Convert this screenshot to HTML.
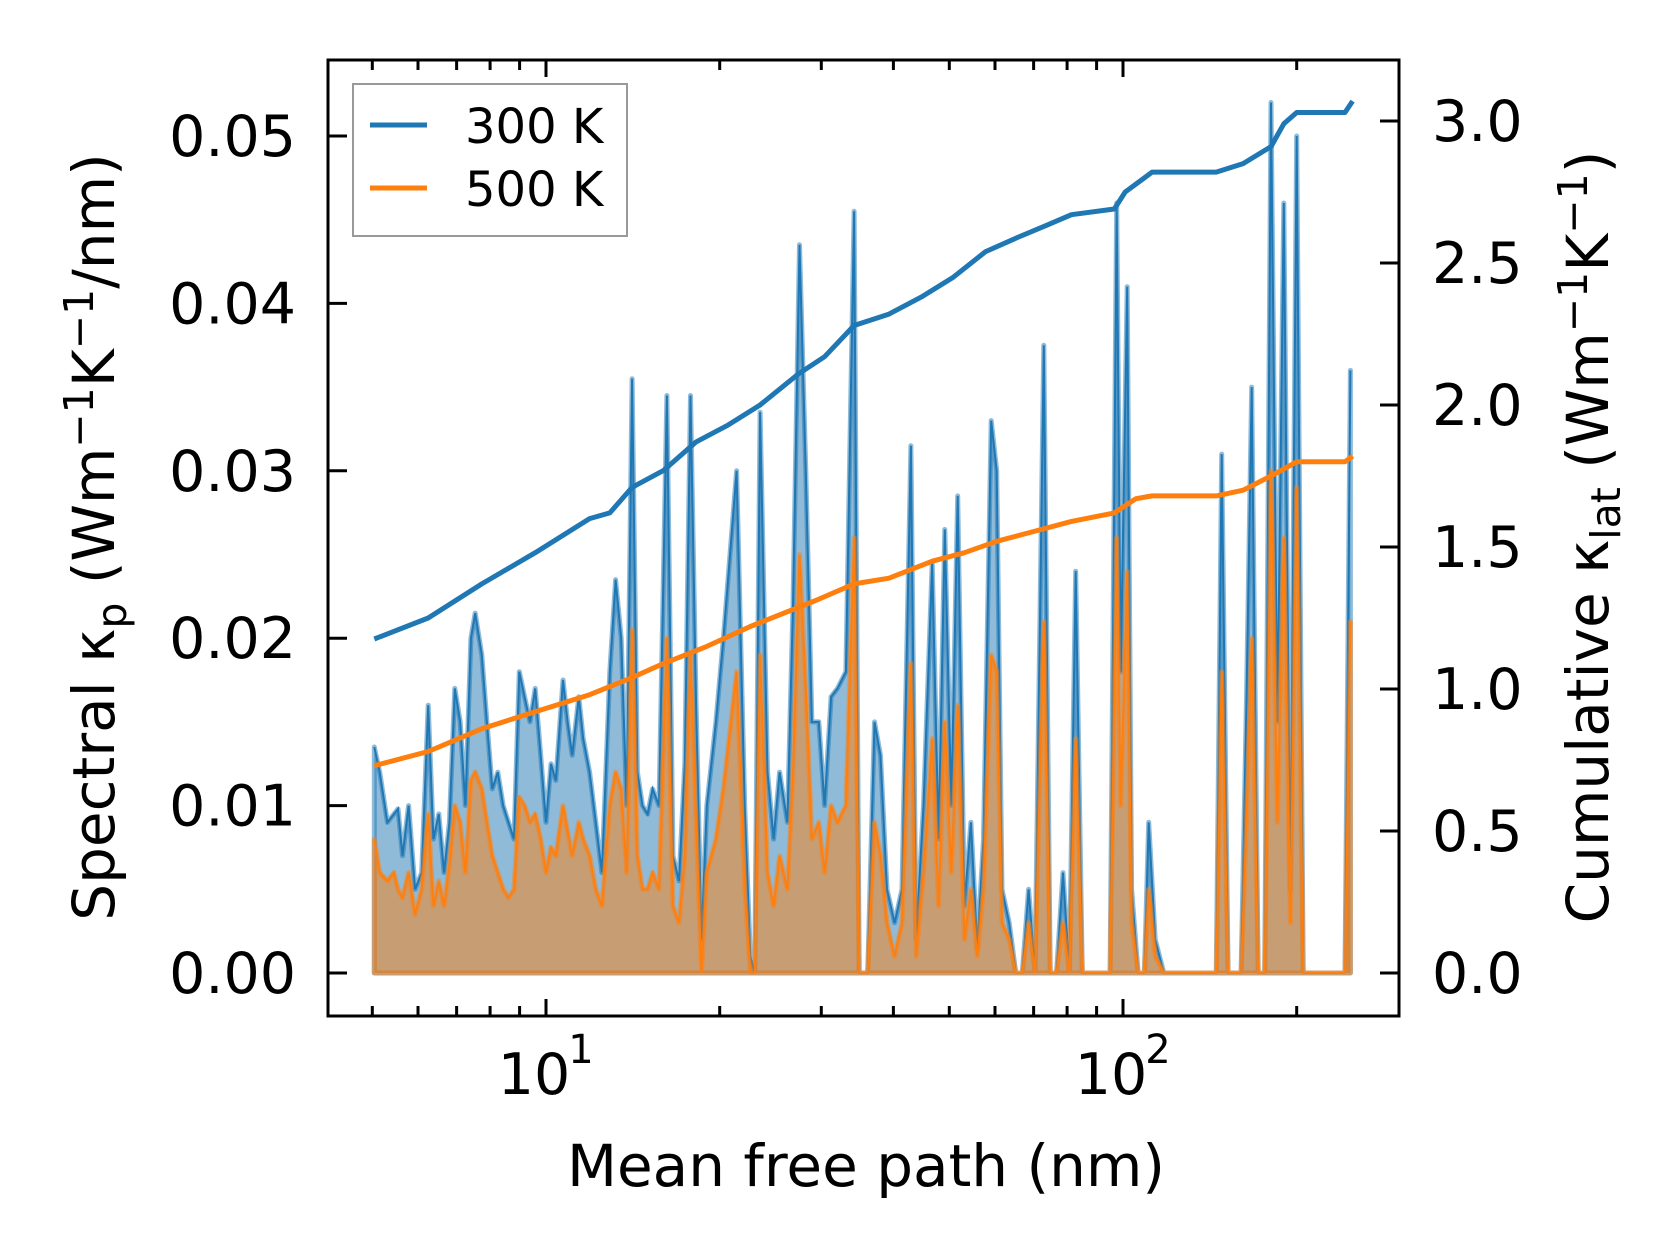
<!DOCTYPE html>
<html><head><meta charset="utf-8"><style>
body{margin:0;background:#fff;}
svg{display:block;font-family:"DejaVu Sans","Liberation Sans",sans-serif;}
</style></head><body>
<svg id="chart" width="1679" height="1254" viewBox="0 0 1679 1254" xmlns="http://www.w3.org/2000/svg">
<rect width="1679" height="1254" fill="#fff"/>
<g id="plot"></g>
<g id="axes"></g>
<text x="866" y="1186" font-size="58" text-anchor="middle">Mean free path (nm)</text>
<text transform="translate(114,537) rotate(-90)" font-size="58" text-anchor="middle">Spectral κ<tspan font-size="41" dy="12">p</tspan><tspan dy="-12"> (Wm</tspan><tspan font-size="41" dy="-21">−1</tspan><tspan dy="21">K</tspan><tspan font-size="41" dy="-21">−1</tspan><tspan dy="21">/nm)</tspan></text>
<text transform="translate(1608,537) rotate(-90)" font-size="58" text-anchor="middle">Cumulative κ<tspan font-size="41" dy="12">lat</tspan><tspan dy="-12"> (Wm</tspan><tspan font-size="41" dy="-21">−1</tspan><tspan dy="21">K</tspan><tspan font-size="41" dy="-21">−1</tspan><tspan dy="21">)</tspan></text>
<g>
<rect x="353" y="84" width="274" height="152" fill="#fff" stroke="#999" stroke-width="2"/>
<line x1="370" y1="125" x2="427" y2="125" stroke="#1f77b4" stroke-width="5"/>
<text x="465" y="143" font-size="48">300 K</text>
<line x1="370" y1="188" x2="427" y2="188" stroke="#ff7f0e" stroke-width="5"/>
<text x="465" y="206" font-size="48">500 K</text>
</g>
</svg>
<script>
const mfp=[5.04,5.15,5.31,5.45,5.54,5.64,5.78,5.93,6.09,6.25,6.38,6.52,6.66,6.80,6.95,7.10,7.25,7.41,7.54,7.74,7.90,8.07,8.25,8.43,8.61,8.80,8.99,9.18,9.38,9.58,9.79,10.0,10.2,10.4,10.7,10.9,11.1,11.4,11.6,11.9,12.2,12.5,12.9,13.2,13.5,13.8,14.1,14.4,14.7,15.0,15.3,15.7,16.2,16.6,17.0,17.4,17.8,18.2,18.6,19.0,19.7,20.3,21.4,22.1,22.6,23.0,23.5,24.2,24.8,25.4,26.2,26.8,27.5,28.2,28.9,29.7,30.4,31.2,32.0,33.1,34.2,34.9,36.1,37.1,38.0,39.0,40.2,41.4,42.9,43.8,45.1,46.7,47.9,49.1,50.4,51.7,53.1,54.5,55.9,57.3,59.1,60.4,61.7,63.5,65.2,66.9,68.6,70.4,72.9,74.8,76.7,78.7,80.7,82.8,85.0,87.9,90.3,95.0,97.5,99.1,101.7,103.5,106.2,108.9,110.8,113.7,117.7,145.1,148.3,152.1,160.2,163.6,167.1,171.5,176.0,180.5,185.2,190.0,195.0,200.0,205.3,242.5,247.8];
const spec300=[0.0135,0.012,0.009,0.0095,0.0098,0.007,0.010,0.005,0.006,0.016,0.008,0.0095,0.006,0.009,0.017,0.015,0.010,0.020,0.0215,0.019,0.015,0.011,0.012,0.010,0.009,0.008,0.018,0.0165,0.015,0.017,0.013,0.009,0.0125,0.0115,0.0175,0.015,0.013,0.0165,0.014,0.012,0.009,0.006,0.018,0.0235,0.020,0.010,0.0355,0.012,0.010,0.0095,0.011,0.010,0.0345,0.007,0.0055,0.0125,0.0345,0.016,0.002,0.010,0.015,0.020,0.030,0.010,0.001,0.0,0.0335,0.012,0.008,0.012,0.009,0.022,0.0435,0.030,0.015,0.015,0.010,0.0165,0.017,0.018,0.0455,0.0,0.0,0.015,0.013,0.005,0.003,0.005,0.0315,0.002,0.010,0.0245,0.008,0.0265,0.010,0.0285,0.004,0.009,0.0015,0.008,0.033,0.030,0.005,0.003,0.0,0.0,0.005,0.0,0.0375,0.0,0.0,0.006,0.0,0.024,0.0,0.0,0.0,0.0,0.046,0.018,0.041,0.005,0.0,0.0,0.009,0.002,0.0,0.0,0.031,0.0,0.0,0.016,0.035,0.0,0.0,0.052,0.015,0.046,0.005,0.050,0.0,0.0,0.036];
const spec500=[0.008,0.006,0.0055,0.006,0.005,0.0045,0.006,0.0035,0.005,0.0095,0.004,0.0055,0.004,0.0065,0.010,0.009,0.006,0.0115,0.012,0.011,0.009,0.007,0.006,0.005,0.0045,0.005,0.0105,0.010,0.009,0.0095,0.008,0.006,0.0075,0.007,0.010,0.0085,0.007,0.009,0.008,0.007,0.005,0.004,0.010,0.012,0.011,0.006,0.0205,0.007,0.005,0.005,0.006,0.005,0.020,0.004,0.003,0.007,0.019,0.009,0.0,0.006,0.008,0.011,0.018,0.005,0.0,0.0,0.019,0.006,0.004,0.007,0.005,0.012,0.025,0.017,0.008,0.009,0.006,0.010,0.009,0.010,0.026,0.0,0.0,0.009,0.007,0.003,0.001,0.003,0.0185,0.001,0.006,0.014,0.004,0.015,0.006,0.016,0.002,0.005,0.001,0.005,0.019,0.018,0.003,0.002,0.0,0.0,0.003,0.0,0.021,0.0,0.0,0.003,0.0,0.014,0.0,0.0,0.0,0.0,0.026,0.010,0.024,0.003,0.0,0.0,0.005,0.001,0.0,0.0,0.018,0.0,0.0,0.009,0.020,0.0,0.0,0.030,0.009,0.026,0.003,0.029,0.0,0.0,0.021];
const cumX300=[5.04,6.25,7.74,9.58,11.9,12.9,14.1,16.0,18.2,20.7,23.5,27.4,30.4,34.2,39.3,44.7,50.8,57.8,65.7,73.2,81.4,96.6,100.9,112.3,145.1,161.5,180.5,190.0,200.0,242.5,250];
const cum300=[1.176,1.25,1.37,1.48,1.60,1.62,1.71,1.77,1.87,1.93,2.0,2.11,2.17,2.28,2.32,2.38,2.45,2.54,2.59,2.63,2.67,2.69,2.75,2.82,2.82,2.85,2.91,2.99,3.03,3.03,3.07];
const cumX500=[5.04,6.25,7.74,9.58,11.9,14.1,16.0,19.0,22.6,29.2,34.2,39.3,46.7,53.1,60.4,71.6,81.4,96.6,105.3,112.3,145.1,161.5,180.5,200.0,242.5,250];
const cum500=[0.73,0.78,0.86,0.92,0.98,1.04,1.09,1.15,1.22,1.31,1.37,1.39,1.45,1.48,1.52,1.56,1.59,1.62,1.67,1.68,1.68,1.70,1.75,1.80,1.80,1.82];
const yLeftTicks=[0,0.01,0.02,0.03,0.04,0.05];
const yLeftLabels=["0.00","0.01","0.02","0.03","0.04","0.05"];
const yRightTicks=[0,0.5,1.0,1.5,2.0,2.5,3.0];
const yRightLabels=["0.0","0.5","1.0","1.5","2.0","2.5","3.0"];
const xMajor=[10,100];
const xMajorExp=["1","2"];
const xMinor=[5,6,7,8,9,20,30,40,50,60,70,80,90,200];

const L=328,R=1399,T=60,B=1016;
const NS="http://www.w3.org/2000/svg";
function xs(m){return 546+(Math.log10(m)-1)*577;}
function yl(v){return 973-v/0.05*837;}
function yr(v){return 973-v/3*852;}
function mk(tag,attrs,parent){const e=document.createElementNS(NS,tag);for(const k in attrs)e.setAttribute(k,attrs[k]);parent.appendChild(e);return e;}
const plot=document.getElementById('plot'),axes=document.getElementById('axes');

function area(ys,color,name){
  let d='M'+xs(mfp[0])+','+yl(0);
  for(let i=0;i<mfp.length;i++)d+=' L'+xs(mfp[i]).toFixed(1)+','+yl(ys[i]).toFixed(1);
  d+=' L'+xs(mfp[mfp.length-1])+','+yl(0)+' Z';
  const p=mk('path',{d:d,fill:color,'fill-opacity':0.5,stroke:color,'stroke-opacity':0.5,'stroke-width':5,'stroke-linejoin':'round'},plot);
  
  
  let d2='';
  for(let i=0;i<mfp.length;i++)d2+=(i?' L':'M')+xs(mfp[i]).toFixed(1)+','+yl(ys[i]).toFixed(1);
  const l=mk('path',{d:d2,fill:'none',stroke:color,'stroke-width':2},plot);
  
  
}
area(spec300,'#1f77b4','spectral-300k');
area(spec500,'#ff7f0e','spectral-500k');
function cline(xa,ya,color,name){
  let d='';
  for(let i=0;i<xa.length;i++)d+=(i?' L':'M')+xs(xa[i]).toFixed(1)+','+yr(ya[i]).toFixed(1);
  const p=mk('path',{d:d,fill:'none',stroke:color,'stroke-width':5,'stroke-linejoin':'round'},plot);
  
  
}
cline(cumX300,cum300,'#1f77b4','cumulative-300k');
cline(cumX500,cum500,'#ff7f0e','cumulative-500k');

const frame=mk('rect',{x:L,y:T,width:R-L,height:B-T,fill:'none',stroke:'#000','stroke-width':3},axes);


yLeftTicks.forEach((v,i)=>{
  const y=yl(v);
  mk('line',{x1:L,y1:y,x2:L+19,y2:y,stroke:'#000','stroke-width':3},axes);
  const t=mk('text',{x:L-32,y:y+20,'font-size':57,'text-anchor':'end'},axes);
  t.textContent=yLeftLabels[i];
  
  
});
yRightTicks.forEach((v,i)=>{
  const y=yr(v);
  mk('line',{x1:R-19,y1:y,x2:R,y2:y,stroke:'#000','stroke-width':3},axes);
  const t=mk('text',{x:R+33,y:y+20,'font-size':57,'text-anchor':'start'},axes);
  t.textContent=yRightLabels[i];
  
  
});
xMajor.forEach((m,i)=>{
  const x=xs(m);
  mk('line',{x1:x,y1:B,x2:x,y2:B-17,stroke:'#000','stroke-width':3},axes);
  mk('line',{x1:x,y1:T,x2:x,y2:T+17,stroke:'#000','stroke-width':3},axes);
  const t=mk('text',{x:x-12,y:1094,'font-size':57,'text-anchor':'middle'},axes);
  t.textContent='10';
  
  
  const s=mk('text',{x:x+35,y:1063,'font-size':40,'text-anchor':'middle'},axes);
  s.textContent=xMajorExp[i];
  
  
});
xMinor.forEach(m=>{
  const x=xs(m);
  mk('line',{x1:x,y1:B,x2:x,y2:B-10,stroke:'#000','stroke-width':3},axes);
  mk('line',{x1:x,y1:T,x2:x,y2:T+10,stroke:'#000','stroke-width':3},axes);
});
</script>
</body></html>
